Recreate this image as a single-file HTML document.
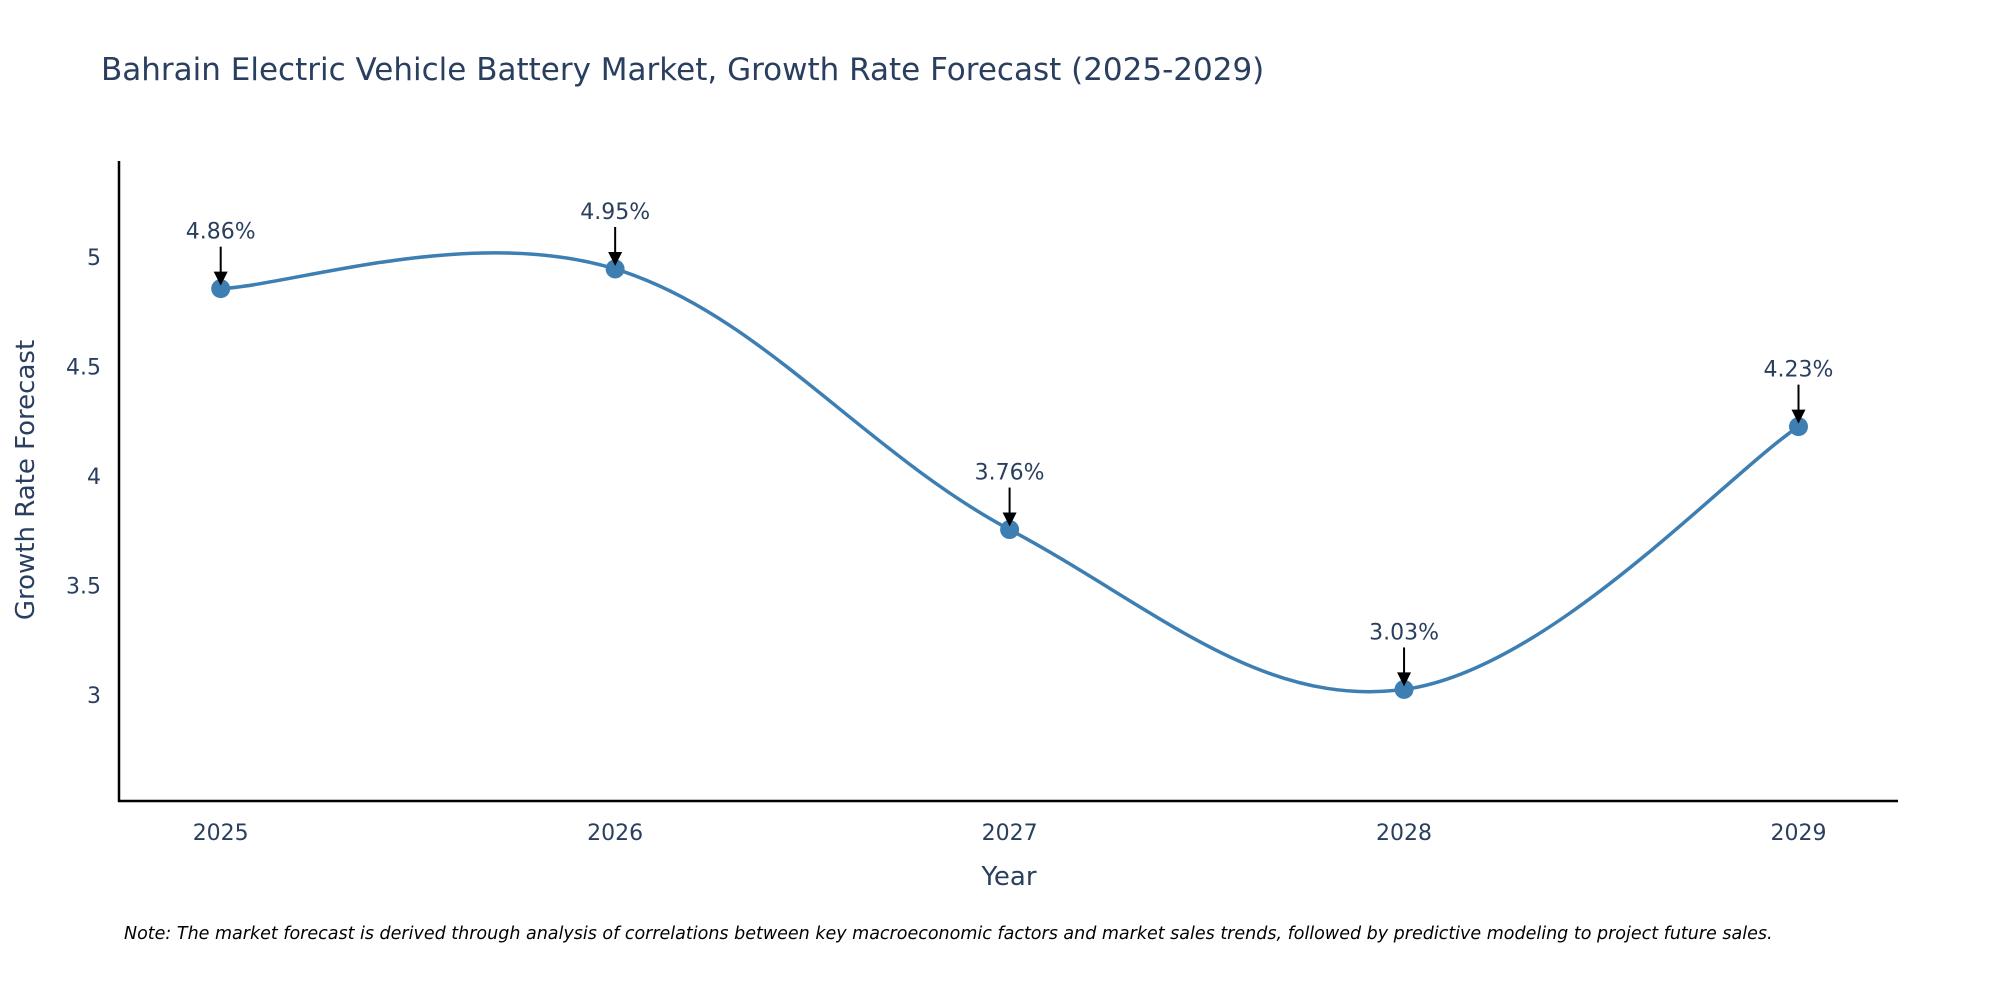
<!DOCTYPE html>
<html><head><meta charset="utf-8"><style>
body{margin:0;background:#fff;}
svg text{font-family:"DejaVu Sans","Liberation Sans",sans-serif;}
</style></head><body>
<svg id="chart" width="2000" height="1000" viewBox="0 0 2000 1000" xmlns="http://www.w3.org/2000/svg">
<rect width="2000" height="1000" fill="#fff"/>
<text x="101" y="80" font-size="31" fill="#2a3f5f">Bahrain Electric Vehicle Battery Market, Growth Rate Forecast (2025-2029)</text>
<g id="plot"></g>
<text transform="translate(34,480) rotate(-90)" text-anchor="middle" font-size="26" fill="#2a3f5f">Growth Rate Forecast</text>
<text x="1009" y="885" text-anchor="middle" font-size="26" fill="#2a3f5f">Year</text>
<text x="124" y="939" font-size="17.5" font-style="italic" fill="#000">Note: The market forecast is derived through analysis of correlations between key macroeconomic factors and market sales trends, followed by predictive modeling to project future sales.</text>
</svg>
<script>
const years = [2025, 2026, 2027, 2028, 2029];
const growth = [4.86, 4.95, 3.76, 3.03, 4.23];
const labels = ["4.86%", "4.95%", "3.76%", "3.03%", "4.23%"];
const yTicks = [3, 3.5, 4, 4.5, 5];
const yTickLabels = ["3", "3.5", "4", "4.5", "5"];

const NS = "http://www.w3.org/2000/svg";
const plot = document.getElementById('plot');
const X0 = 119, X1 = 1898, Y0 = 161, Y1 = 801;
const xScale = v => 220.7 + (v - 2025) * 394.45;
const yScale = v => 696 - (v - 3) * 219;
function mk(tag, attrs){const e=document.createElementNS(NS,tag);for(const k in attrs)e.setAttribute(k,attrs[k]);plot.appendChild(e);return e;}

let ax = mk('line',{x1:X0,y1:Y0,x2:X0,y2:Y1+1,stroke:'#000','stroke-width':2.5});


ax = mk('line',{x1:X0-1,y1:Y1,x2:X1,y2:Y1,stroke:'#000','stroke-width':2.5});



yTicks.forEach((t,i)=>{
  const e = mk('text',{x:X0-18,y:yScale(t)+7,'text-anchor':'end','font-size':22,fill:'#2a3f5f'});
  e.textContent = yTickLabels[i];
  
  
});
years.forEach(y=>{
  const e = mk('text',{x:xScale(y),y:Y1+39,'text-anchor':'middle','font-size':22,fill:'#2a3f5f'});
  e.textContent = String(y);
  
  
});

const pts = years.map((y,i)=>[xScale(y), yScale(growth[i])]);
let d = `M${pts[0][0]},${pts[0][1]}`;
for(let i=0;i<pts.length-1;i++){
  const p0=pts[Math.max(0,i-1)],p1=pts[i],p2=pts[i+1],p3=pts[Math.min(pts.length-1,i+2)];
  const t=1/6*1.1;
  const c1=[p1[0]+(p2[0]-p0[0])*t,p1[1]+(p2[1]-p0[1])*t];
  const c2=[p2[0]-(p3[0]-p1[0])*t,p2[1]-(p3[1]-p1[1])*t];
  d+=` C${c1[0]},${c1[1]} ${c2[0]},${c2[1]} ${p2[0]},${p2[1]}`;
}
const line = mk('path',{d:d,fill:'none',stroke:'#3d7fb2','stroke-width':3.5});



pts.forEach((p,i)=>{
  const c = mk('circle',{cx:p[0],cy:p[1],r:9.5,fill:'#3d7fb2'});
  
  
  const a = mk('line',{x1:p[0],y1:p[1]-42,x2:p[0],y2:p[1]-14,stroke:'#000','stroke-width':2});
  
  
  const h = mk('polygon',{points:`${p[0]-7},${p[1]-17} ${p[0]+7},${p[1]-17} ${p[0]},${p[1]-3}`,fill:'#000'});
  
  
  const t = mk('text',{x:p[0],y:p[1]-50,'text-anchor':'middle','font-size':22,fill:'#2a3f5f'});
  t.textContent = labels[i];
  
  
});
</script>
</body></html>
